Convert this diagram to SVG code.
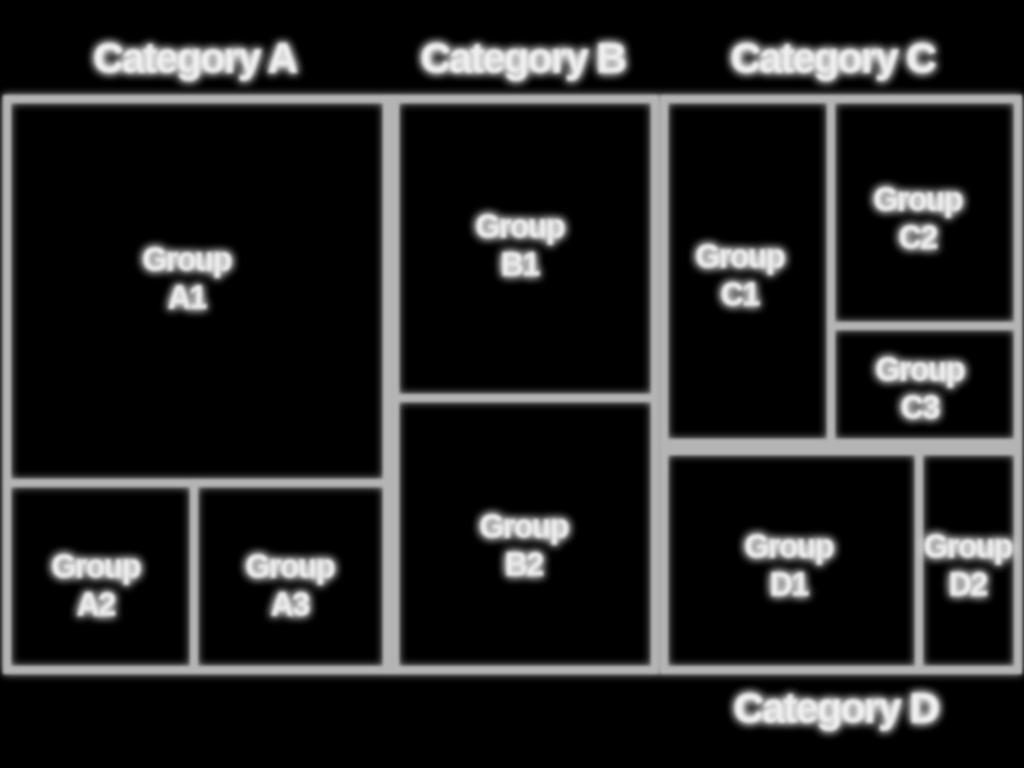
<svg xmlns="http://www.w3.org/2000/svg" width="1024" height="768" viewBox="0 0 1024 768">
<defs>
<filter id="glow" x="-20%" y="-20%" width="140%" height="140%">
<feGaussianBlur in="SourceGraphic" stdDeviation="4" result="b"/>
<feGaussianBlur in="SourceGraphic" stdDeviation="1.4" result="s"/>
<feMerge><feMergeNode in="b"/><feMergeNode in="s"/></feMerge>
</filter>
<filter id="tglow" x="-30%" y="-50%" width="160%" height="200%">
<feGaussianBlur in="SourceGraphic" stdDeviation="5" result="b"/>
<feGaussianBlur in="SourceGraphic" stdDeviation="1.5" result="s"/>
<feMerge><feMergeNode in="b"/><feMergeNode in="b"/><feMergeNode in="s"/></feMerge>
</filter>
</defs>
<style>
.cell{fill:none;stroke:#b4b4b4;stroke-width:8;}
.lbl{font-family:"Liberation Sans",Arial,sans-serif;font-weight:bold;font-size:31px;fill:#f2f2f2;stroke:#d8d8d8;stroke-width:1.5;text-anchor:middle;letter-spacing:-1px;}
.cat{font-family:"Liberation Sans",Arial,sans-serif;font-weight:bold;font-size:41px;fill:#f2f2f2;stroke:#d8d8d8;stroke-width:1.5;text-anchor:middle;letter-spacing:-1.5px;}
</style>
<rect width="1024" height="768" fill="#000"/>
<g id="connectors"></g>
<g filter="url(#glow)">
<g id="A1"><rect class="cell" x="7" y="99" width="380" height="384"/></g>
<g id="A2"><rect class="cell" x="7" y="483" width="187" height="187"/></g>
<g id="A3"><rect class="cell" x="194" y="483" width="193" height="187"/></g>
<g id="B1"><rect class="cell" x="395" y="99" width="260" height="299"/></g>
<g id="B2"><rect class="cell" x="395" y="398" width="260" height="272"/></g>
<g id="C1"><rect class="cell" x="664" y="99" width="167" height="344"/></g>
<g id="C2"><rect class="cell" x="831" y="99" width="187" height="227"/></g>
<g id="C3"><rect class="cell" x="831" y="326" width="187" height="117"/></g>
<g id="D1"><rect class="cell" x="664" y="451" width="255" height="219"/></g>
<g id="D2"><rect class="cell" x="919" y="451" width="99" height="219"/></g>
</g>
<g filter="url(#tglow)">
<g id="label-A1"><text class="lbl" x="187" y="270">Group</text><text class="lbl" x="187" y="308">A1</text></g>
<g id="label-A2"><text class="lbl" x="96" y="577">Group</text><text class="lbl" x="96" y="615">A2</text></g>
<g id="label-A3"><text class="lbl" x="290" y="577">Group</text><text class="lbl" x="290" y="615">A3</text></g>
<g id="label-B1"><text class="lbl" x="520" y="237">Group</text><text class="lbl" x="520" y="275">B1</text></g>
<g id="label-B2"><text class="lbl" x="524" y="537">Group</text><text class="lbl" x="524" y="575">B2</text></g>
<g id="label-C1"><text class="lbl" x="740" y="267">Group</text><text class="lbl" x="740" y="305">C1</text></g>
<g id="label-C2"><text class="lbl" x="918" y="210">Group</text><text class="lbl" x="918" y="248">C2</text></g>
<g id="label-C3"><text class="lbl" x="920" y="380">Group</text><text class="lbl" x="920" y="418">C3</text></g>
<g id="label-D1"><text class="lbl" x="789" y="557">Group</text><text class="lbl" x="789" y="595">D1</text></g>
<g id="label-D2"><text class="lbl" x="968" y="557">Group</text><text class="lbl" x="968" y="595">D2</text></g>
<g id="cat-A"><text class="cat" x="195" y="72">Category A</text></g>
<g id="cat-B"><text class="cat" x="523" y="72">Category B</text></g>
<g id="cat-C"><text class="cat" x="833" y="72">Category C</text></g>
<g id="cat-D"><text class="cat" x="836" y="722">Category D</text></g>
</g>
</svg>
